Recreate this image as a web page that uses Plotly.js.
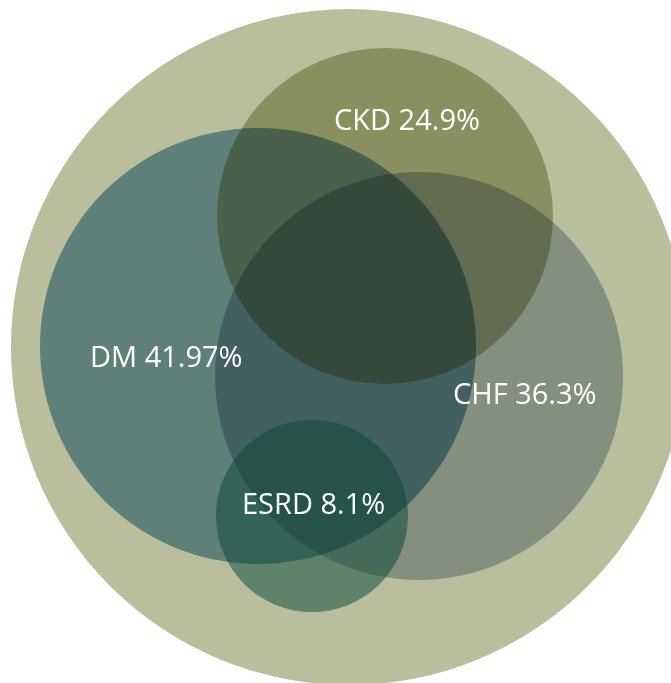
<!DOCTYPE html>
<html>
<head>
<meta charset="utf-8">
<script src="https://cdn.plot.ly/plotly-3.0.1.min.js"></script>
<style>
html,body{margin:0;padding:0;background:#fff;}
#chart{width:671px;height:683px;}
#chart .shapelayer *{mix-blend-mode:multiply;}
</style>
</head>
<body>
<div id="chart"></div>
<script>
// Sets (the outer circle is the whole population)
const setNames   = ["All", "CKD", "DM", "CHF", "ESRD"];
const percents   = [null, 24.9, 41.97, 36.3, 8.1];
const labelText  = ["", "CKD 24.9%", "DM 41.97%", "CHF 36.3%", "ESRD 8.1%"];
// Circle geometry in chart units (x to the right, y downward)
const centerX    = [349, 385, 258, 419, 312];
const centerY    = [347, 216, 346, 376, 516];
const radius     = [338, 168, 218, 204, 96];
// Label anchor points in chart units
const labelX     = [null, 407, 166, 525, 313];
const labelY     = [null, 118, 355, 392, 502];
// Fill colours and how each circle blends with those below it
const fills      = ["#b9be9c", "#bec09d", "#82acc4", "#b6c0ce", "rgba(8,70,52,0.5)"];
const blends     = ["multiply", "multiply", "multiply", "multiply", "normal"];

const shapes = setNames.map((n, i) => ({
  type: "circle", xref: "x", yref: "y",
  x0: centerX[i] - radius[i], x1: centerX[i] + radius[i],
  y0: centerY[i] - radius[i], y1: centerY[i] + radius[i],
  fillcolor: fills[i], line: {width: 0}, layer: "above"
}));

const annotations = [];
for (let i = 1; i < setNames.length; i++) {
  annotations.push({
    x: labelX[i], y: labelY[i], xref: "x", yref: "y",
    text: labelText[i], showarrow: false,
    xanchor: "center", yanchor: "middle",
    font: {family: "Open Sans, Noto Sans, sans-serif", size: 29, color: "#ffffff"}
  });
}

const layout = {
  width: 671, height: 683,
  margin: {l: 0, r: 0, t: 0, b: 0, pad: 0},
  paper_bgcolor: "#ffffff", plot_bgcolor: "#ffffff",
  xaxis: {range: [0, 671], visible: false, fixedrange: true},
  yaxis: {range: [683, 0], visible: false, fixedrange: true},
  shapes: shapes,
  annotations: annotations,
  showlegend: false
};

Plotly.newPlot("chart", [], layout, {displayModeBar: false, staticPlot: true});
const shapePaths = document.querySelectorAll("#chart .shapelayer path");
shapePaths.forEach((p, i) => {
  const mode = blends[i] || "multiply";
  p.style.mixBlendMode = mode;
  const g = p.parentNode;
  if (g && !(g.classList && g.classList.contains("shapelayer"))) {
    g.style.mixBlendMode = mode;
  }
});
</script>
</body>
</html>
